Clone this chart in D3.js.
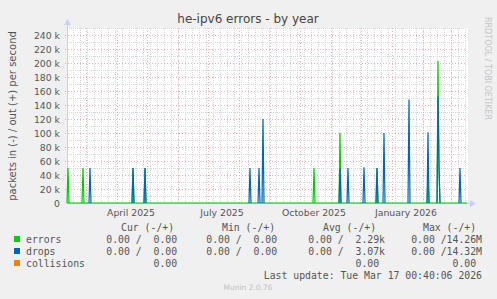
<!DOCTYPE html>
<html>
<head>
<meta charset="utf-8">
<script src="https://cdn.jsdelivr.net/npm/d3@7"></script>
<style>
  body { margin: 0; background: #f0f0f0; }
  svg text { font-family: "DejaVu Sans", sans-serif; }
  .mono { font-family: "DejaVu Sans Mono", monospace; font-size: 9.8px; fill: #555; white-space: pre; }
</style>
</head>
<body>
<div id="chart"></div>
<script>
// data (values in packets/s)
const errorDates = ["2025-02-11", "2025-02-26", "2025-04-17", "2025-04-29", "2025-10-15", "2025-11-10",
    "2025-12-17", "2026-02-06", "2026-02-16", "2026-02-17"];
const errorValues = [50000, 50000, 50000, 50000, 50000, 100000, 50000, 40000, 203000, 50000];

const dropDates = ["2025-03-05", "2025-04-17", "2025-04-29", "2025-08-12", "2025-08-21", "2025-08-25",
    "2025-11-10", "2025-11-18", "2025-12-04", "2025-12-17", "2025-12-24", "2026-01-18", "2026-02-06",
    "2026-02-16", "2026-02-17", "2026-03-10"];
const dropValues = [50000, 50000, 50000, 50000, 50000, 120000, 50000, 50000, 51000, 50000, 100000,
    148000, 101000, 152000, 50000, 50000];

const quarterMonths = ["2025-04-01", "2025-07-01", "2025-10-01", "2026-01-01"];

const legendNames = ["errors", "drops", "collisions"];
const legendColors = ["#00cc00", "#0066b3", "#ff8000"];
const legendHeaders = ["Cur (-/+)", "Min (-/+)", "Avg (-/+)", "Max (-/+)"];
const curCol = ["0.00 /  0.00", "0.00 /  0.00", "0.00"];
const minCol = ["0.00 /  0.00", "0.00 /  0.00", ""];
const avgCol = ["0.00 /  2.29k", "0.00 /  3.07k", "0.00"];
const maxCol = ["0.00 /14.26M", "0.00 /14.32M", "0.00"];

const W = 497, H = 299;
const plot = { left: 67, right: 467, top: 28, bottom: 203 };

const svg = d3.select("#chart").append("svg")
    .attr("width", W)
    .attr("height", H);

svg.append("rect").attr("width", W).attr("height", H).attr("fill", "#f0f0f0");

const x = d3.scaleUtc()
    .domain([new Date("2025-02-10T00:40:06Z"), new Date("2026-03-17T00:40:06Z")])
    .range([plot.left, plot.right]);

const y = d3.scaleLinear()
    .domain([0, 250000])
    .range([plot.bottom, plot.top]);

// plot background
svg.append("rect")
    .attr("x", plot.left).attr("y", plot.top)
    .attr("width", plot.right - plot.left + 1).attr("height", plot.bottom - plot.top)
    .attr("fill", "#ffffff");

// minor grid
const grid = svg.append("g").attr("shape-rendering", "crispEdges");
d3.utcSunday.range(x.domain()[0], x.domain()[1]).forEach(d => {
    grid.append("line")
        .attr("x1", Math.round(x(d)) + 0.5).attr("x2", Math.round(x(d)) + 0.5)
        .attr("y1", plot.top).attr("y2", plot.bottom)
        .attr("stroke", "#d8d8d8").attr("stroke-dasharray", "1,1");
});
d3.range(10000, 260000, 20000).forEach(v => {
    grid.append("line")
        .attr("x1", plot.left).attr("x2", plot.right)
        .attr("y1", Math.round(y(v)) + 0.5).attr("y2", Math.round(y(v)) + 0.5)
        .attr("stroke", "#d8d8d8").attr("stroke-dasharray", "1,1");
});

// major grid
d3.utcMonth.range(x.domain()[0], x.domain()[1]).forEach(d => {
    grid.append("line")
        .attr("x1", Math.round(x(d)) + 0.5).attr("x2", Math.round(x(d)) + 0.5)
        .attr("y1", plot.top).attr("y2", plot.bottom + 2)
        .attr("stroke", "#f0b4b4").attr("stroke-dasharray", "1,2");
});
const yTicks = d3.range(20000, 260000, 20000);
yTicks.forEach(v => {
    grid.append("line")
        .attr("x1", plot.left - 2).attr("x2", plot.right)
        .attr("y1", Math.round(y(v)) + 0.5).attr("y2", Math.round(y(v)) + 0.5)
        .attr("stroke", "#eeb0b0").attr("stroke-dasharray", "1,2");
});

// y tick labels
svg.append("g").selectAll("text")
    .data([0, ...yTicks])
    .enter().append("text")
    .attr("x", 60)
    .attr("y", d => y(d) + 3.5)
    .attr("text-anchor", "end")
    .attr("font-size", "9.3px")
    .attr("fill", "#555")
    .text(d => d === 0 ? "0" : (d / 1000) + " k");

// x labels, centred on the middle of the quarter month
svg.append("g").selectAll("text")
    .data(quarterMonths.map(s => new Date(s + "T00:00:00Z")))
    .enter().append("text")
    .attr("x", d => x(d3.utcDay.offset(d, 14)))
    .attr("y", 216)
    .attr("text-anchor", "middle")
    .attr("font-size", "9.3px")
    .attr("fill", "#555")
    .text(d => d3.utcFormat("%B %Y")(d));

// axes
svg.append("line")
    .attr("x1", plot.left + 0.5).attr("x2", plot.left + 0.5)
    .attr("y1", plot.bottom).attr("y2", plot.top - 4)
    .attr("stroke", "#ccccff");
svg.append("line")
    .attr("x1", plot.left).attr("x2", plot.right + 3)
    .attr("y1", plot.bottom + 0.5).attr("y2", plot.bottom + 0.5)
    .attr("stroke", "#ccccff");
svg.append("path")
    .attr("d", `M${plot.left - 3},${plot.top - 3} L${plot.left + 4},${plot.top - 3} L${plot.left + 0.5},${plot.top - 9} Z`)
    .attr("fill", "#ccccff");
svg.append("path")
    .attr("d", `M${plot.right + 3},${plot.bottom - 3} L${plot.right + 3},${plot.bottom + 4} L${plot.right + 9},${plot.bottom + 0.5} Z`)
    .attr("fill", "#ccccff");

// turn spike days into line segments (zero the day before and after)
function spikeSegments(dates, values) {
    const byDay = new Map(dates.map((d, i) => [d, values[i]]));
    const days = dates.map(d => new Date(d + "T00:40:06Z")).sort((a, b) => a - b);
    const segs = [];
    let cur = null;
    days.forEach(d => {
        const key = d.toISOString().slice(0, 10);
        const prev = d3.utcDay.offset(d, -1);
        if (!cur || !byDay.has(prev.toISOString().slice(0, 10))) {
            cur = [[prev, 0]];
            segs.push(cur);
        }
        cur.push([d, byDay.get(key)]);
        const next = d3.utcDay.offset(d, 1);
        if (!byDay.has(next.toISOString().slice(0, 10))) cur.push([next, 0]);
    });
    return segs;
}

const line = d3.line()
    .x(d => Math.max(plot.left, x(d[0])))
    .y(d => y(d[1]));

// errors: zero line plus spikes
svg.append("line")
    .attr("x1", plot.left).attr("x2", plot.right)
    .attr("y1", plot.bottom).attr("y2", plot.bottom)
    .attr("stroke", legendColors[0]).attr("stroke-width", 1.2);
spikeSegments(errorDates, errorValues).forEach(seg => {
    svg.append("path").attr("d", line(seg))
        .attr("fill", "none").attr("stroke", legendColors[0]).attr("stroke-width", 1.2);
});
spikeSegments(dropDates, dropValues).forEach(seg => {
    svg.append("path").attr("d", line(seg))
        .attr("fill", "none").attr("stroke", legendColors[1]).attr("stroke-width", 1.2);
});

// title and side texts
svg.append("text")
    .attr("x", 248).attr("y", 23)
    .attr("text-anchor", "middle")
    .attr("font-size", "12px")
    .attr("fill", "#444")
    .text("he-ipv6 errors - by year");

svg.append("text")
    .attr("transform", `translate(16,116) rotate(-90)`)
    .attr("text-anchor", "middle")
    .attr("font-size", "10px")
    .attr("fill", "#555")
    .text("packets in (-) / out (+) per second");

svg.append("text")
    .attr("transform", `translate(484.5,17) rotate(90)`)
    .attr("font-size", "8px")
    .attr("fill", "#c4c4c4")
    .text("RRDTOOL / TOBI OETIKER");

// legend
const legend = svg.append("g");
const headerX = [121, 222, 323, 423];
legendHeaders.forEach((h, i) => {
    legend.append("text").attr("class", "mono").attr("x", headerX[i]).attr("y", 231).text(h);
});
const colEnds = [183, 283, 385, 482];
legendNames.forEach((name, i) => {
    const ry = 243 + i * 12;
    legend.append("rect")
        .attr("x", 14).attr("y", ry - 7).attr("width", 6).attr("height", 6)
        .attr("fill", legendColors[i]);
    legend.append("text").attr("class", "mono").attr("x", 26).attr("y", ry).text(name);
    [curCol, minCol, avgCol, maxCol].forEach((col, j) => {
        const t = col[i];
        const suffix = /[kM]$/.test(t) ? "" : " ";
        legend.append("text").attr("class", "mono")
            .attr("x", colEnds[j]).attr("y", ry)
            .attr("text-anchor", "end")
            .text(t + suffix);
    });
});

legend.append("text").attr("class", "mono")
    .attr("x", 482).attr("y", 279)
    .attr("text-anchor", "end")
    .text("Last update: Tue Mar 17 00:40:06 2026");

svg.append("text")
    .attr("x", 248).attr("y", 290)
    .attr("text-anchor", "middle")
    .attr("font-size", "7.5px")
    .attr("fill", "#c0c0c0")
    .text("Munin 2.0.76");
</script>
</body>
</html>
